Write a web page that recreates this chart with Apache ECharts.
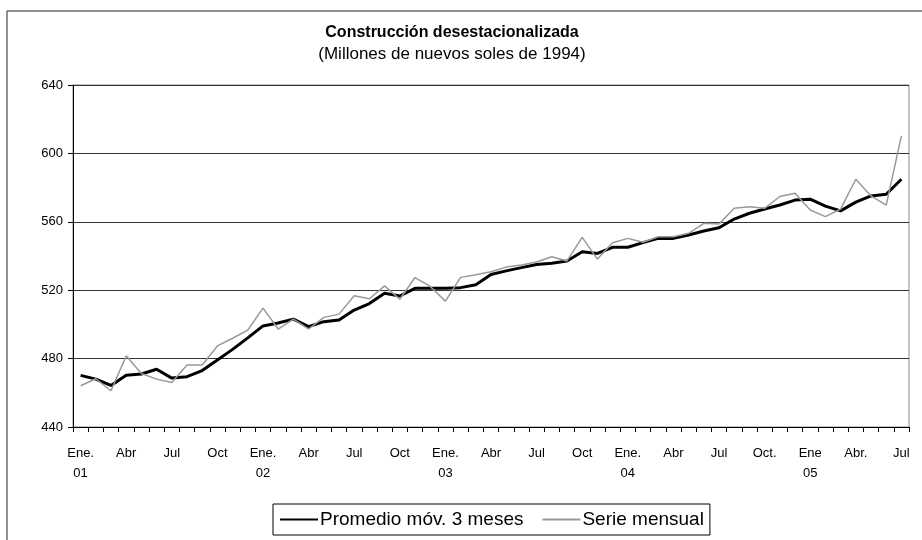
<!DOCTYPE html>
<html>
<head>
<meta charset="utf-8">
<script src="https://cdn.jsdelivr.net/npm/echarts@6/dist/echarts.min.js"></script>
<style>
  html, body { margin: 0; padding: 0; background: #fff; }
  #chart { width: 922px; height: 540px; }
</style>
</head>
<body>
<div id="chart"></div>
<script>
// meses: Ene 2001 .. Jul 2005
var categories = [
  '2001-01','2001-02','2001-03','2001-04','2001-05','2001-06','2001-07','2001-08','2001-09','2001-10','2001-11','2001-12',
  '2002-01','2002-02','2002-03','2002-04','2002-05','2002-06','2002-07','2002-08','2002-09','2002-10','2002-11','2002-12',
  '2003-01','2003-02','2003-03','2003-04','2003-05','2003-06','2003-07','2003-08','2003-09','2003-10','2003-11','2003-12',
  '2004-01','2004-02','2004-03','2004-04','2004-05','2004-06','2004-07','2004-08','2004-09','2004-10','2004-11','2004-12',
  '2005-01','2005-02','2005-03','2005-04','2005-05','2005-06','2005-07'
];

// etiquetas cada 3 meses
var tickLabels = [
  'Ene.\n01','Abr','Jul','Oct',
  'Ene.\n02','Abr','Jul','Oct',
  'Ene.\n03','Abr','Jul','Oct',
  'Ene.\n04','Abr','Jul','Oct.',
  'Ene\n05','Abr.','Jul'
];

var promedio = [
  470.2, 468.0, 464.3, 470.3, 471.0, 473.8, 468.6, 469.4, 473.0, 479.2, 485.4, 492.1,
  499.1, 500.8, 503.1, 498.7, 501.6, 502.6, 508.4, 512.2, 518.2, 516.6, 521.1, 521.1,
  521.1, 521.5, 523.2, 529.2, 531.3, 533.2, 535.0, 535.7, 537.1, 542.5, 541.5, 545.1,
  545.1, 547.8, 550.3, 550.3, 552.3, 554.6, 556.5, 561.6, 565.0, 567.5, 569.8, 572.7,
  573.2, 569.2, 566.4, 571.5, 575.1, 576.1, 584.9
];

var mensual = [
  464.1, 468.2, 461.2, 481.6, 471.3, 468.0, 466.0, 476.3, 476.3, 487.4, 491.9, 496.7,
  509.5, 497.3, 503.1, 497.3, 504.1, 506.0, 516.7, 515.0, 522.5, 514.7, 527.4, 522.2,
  513.6, 527.5, 529.0, 530.8, 533.5, 534.7, 536.5, 539.6, 537.1, 550.9, 538.2, 547.8,
  550.3, 548.0, 551.3, 551.3, 553.3, 559.1, 558.7, 567.9, 568.8, 567.9, 574.8, 576.7,
  566.9, 563.0, 567.4, 584.9, 575.1, 569.8, 610.3
];

var font = "'Liberation Sans', Arial, sans-serif";

var chart = echarts.init(document.getElementById('chart'));
var option = {
  animation: false,
  textStyle: { fontFamily: font, color: '#000' },
  title: [
    {
      text: 'Construcción desestacionalizada',
      left: 447, top: 20, textAlign: 'center',
      textStyle: { fontFamily: font, fontSize: 16, fontWeight: 'bold', color: '#000' }
    },
    {
      text: '(Millones de nuevos soles de 1994)',
      left: 447, top: 41, textAlign: 'center',
      textStyle: { fontFamily: font, fontSize: 17, fontWeight: 'normal', color: '#000' }
    }
  ],
  graphic: [
    {
      type: 'rect', z: -1,
      shape: { x: 7, y: 11, width: 1000, height: 1000 },
      style: { fill: 'none', stroke: '#222', lineWidth: 1 }
    }
  ],
  legend: {
    left: 273, top: 504,
    padding: [6, 6, 6, 6],
    itemGap: 18,
    itemWidth: 38, itemHeight: 14,
    borderColor: '#000', borderWidth: 1,
    itemStyle: { opacity: 0 },
    textStyle: { fontFamily: font, fontSize: 19, color: '#000', padding: [0, 0, 0, -3] },
    data: ['Promedio móv. 3 meses', 'Serie mensual']
  },
  grid: {
    left: 73, right: 13, top: 85, bottom: 113,
    show: true, borderColor: '#888', borderWidth: 1
  },
  xAxis: {
    type: 'category',
    data: categories,
    boundaryGap: true,
    axisLine: { lineStyle: { color: '#000', width: 1 } },
    axisTick: { show: true, interval: 0, length: 5, lineStyle: { color: '#000' } },
    axisLabel: {
      interval: 2,
      margin: 16,
      fontSize: 13, lineHeight: 20, color: '#000', fontFamily: font,
      formatter: function (v, i) { return tickLabels[i / 3]; }
    },
    splitLine: { show: false }
  },
  yAxis: {
    type: 'value',
    min: 440, max: 640, interval: 40,
    axisLine: { show: true, lineStyle: { color: '#000', width: 1 } },
    axisTick: { show: true, length: 5, lineStyle: { color: '#000' } },
    axisLabel: { fontSize: 13, color: '#000', margin: 10, fontFamily: font },
    splitLine: { show: true, lineStyle: { color: '#333', width: 1 } }
  },
  series: [
    {
      name: 'Promedio móv. 3 meses',
      type: 'line',
      data: promedio,
      symbol: 'none',
      color: '#000',
      lineStyle: { color: '#000', width: 3 }
    },
    {
      name: 'Serie mensual',
      type: 'line',
      data: mensual,
      symbol: 'none',
      color: '#999',
      lineStyle: { color: '#999', width: 1.5 }
    }
  ]
};
chart.setOption(option);
</script>
</body>
</html>
